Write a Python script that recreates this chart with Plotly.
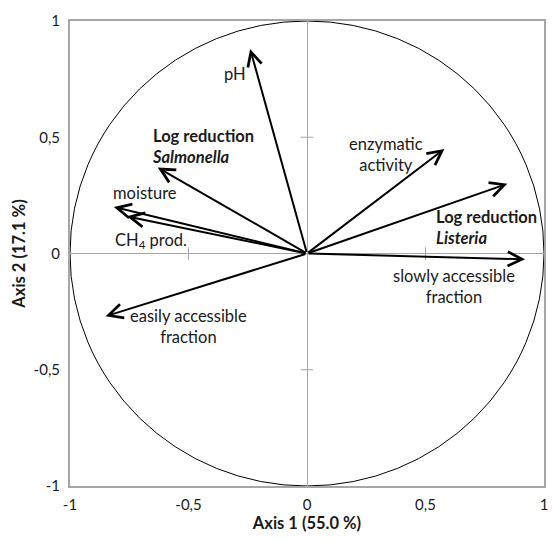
import plotly.graph_objects as go

# ---- data (loadings) ----
variables = ["pH", "Log reduction Salmonella", "moisture", "CH4 prod.",
             "easily accessible fraction", "enzymatic activity",
             "Log reduction Listeria", "slowly accessible fraction"]
axis1 = [-0.24, -0.63, -0.815, -0.76, -0.85, 0.58, 0.845, 0.92]
axis2 = [0.88, 0.37, 0.20, 0.16, -0.27, 0.45, 0.30, -0.025]

tick_vals = [-1, -0.5, 0, 0.5, 1]
tick_text = ["-1", "-0,5", "0", "0,5", "1"]

x_title = "Axis 1 (55.0 %)"
y_title = "Axis 2 (17.1 %)"

# ---- label texts and placement (layout, not data) ----
label_text = ["pH", "<b>Log reduction<br><i>Salmonella</i></b>", "moisture",
              "CH<sub>4</sub> prod.", "easily accessible<br>fraction",
              "enzymatic<br>activity", "<b>Log reduction<br><i>Listeria</i></b>",
              "slowly accessible<br>fraction"]
label_x = [-0.305, -0.661, -0.682, -0.657, -0.502, 0.335, 0.536, 0.619]
label_y = [0.772, 0.462, 0.26, 0.054, -0.312, 0.424, 0.11, -0.144]
label_anchor = ["center", "left", "center", "center", "center", "center", "left", "center"]
label_align = ["center", "left", "center", "center", "center", "center", "left", "center"]

FONT = "Lato"
GRAY = "#a6a6a6"
TXT = "#1a1a1a"

fig = go.Figure()

# small cross tick marks on the zero axes
fig.add_trace(go.Scatter(x=[-0.5, 0.5], y=[0, 0], mode="markers",
                         marker=dict(symbol="line-ns-open", size=9, color=GRAY,
                                     line=dict(color=GRAY, width=1)),
                         hoverinfo="skip", showlegend=False))
fig.add_trace(go.Scatter(x=[0, 0], y=[-0.5, 0.5], mode="markers",
                         marker=dict(symbol="line-ew-open", size=9, color=GRAY,
                                     line=dict(color=GRAY, width=1)),
                         hoverinfo="skip", showlegend=False))

# unit circle
fig.add_shape(type="circle", xref="x", yref="y", x0=-1, y0=-1, x1=1, y1=1,
              line=dict(color="black", width=1), layer="below")

# arrows
for vx, vy in zip(axis1, axis2):
    fig.add_annotation(x=vx, y=vy, ax=0, ay=0, xref="x", yref="y",
                       axref="x", ayref="y", text="", showarrow=True,
                       arrowhead=5, arrowsize=1.4, arrowwidth=2,
                       arrowcolor="black", standoff=0, startstandoff=0)

# labels
for t, lx, ly, an, al in zip(label_text, label_x, label_y, label_anchor, label_align):
    fig.add_annotation(x=lx, y=ly, xref="x", yref="y", text=t, showarrow=False,
                       xanchor=an, yanchor="middle", align=al,
                       font=dict(family=FONT, size=16.5, color=TXT))

axis_common = dict(range=[-1, 1], tickvals=tick_vals, ticktext=tick_text,
                   showgrid=False, zeroline=True, zerolinecolor=GRAY,
                   zerolinewidth=1, showline=True, linecolor=GRAY, linewidth=2,
                   mirror=True, ticks="", tickfont=dict(family=FONT, size=15,
                                                         color=TXT))

fig.update_xaxes(**axis_common, ticklabelstandoff=4,
                 title=dict(text="<b>" + x_title + "</b>", standoff=2,
                            font=dict(family=FONT, size=16.5, color=TXT)))
fig.update_yaxes(**axis_common, ticklabelstandoff=5,
                 title=dict(text="<b>" + y_title + "</b>", standoff=4,
                            font=dict(family=FONT, size=16.5, color=TXT)))

fig.update_layout(width=552, height=540,
                  margin=dict(l=70, r=4, t=21, b=54, pad=0),
                  plot_bgcolor="white", paper_bgcolor="white",
                  showlegend=False)

# remove the default page margin so the figure fills the window exactly
fig.write_html("out.html",
               config={"displayModeBar": False},
               post_script="document.body.style.margin='0';"
                           "document.body.style.overflow='hidden';")
